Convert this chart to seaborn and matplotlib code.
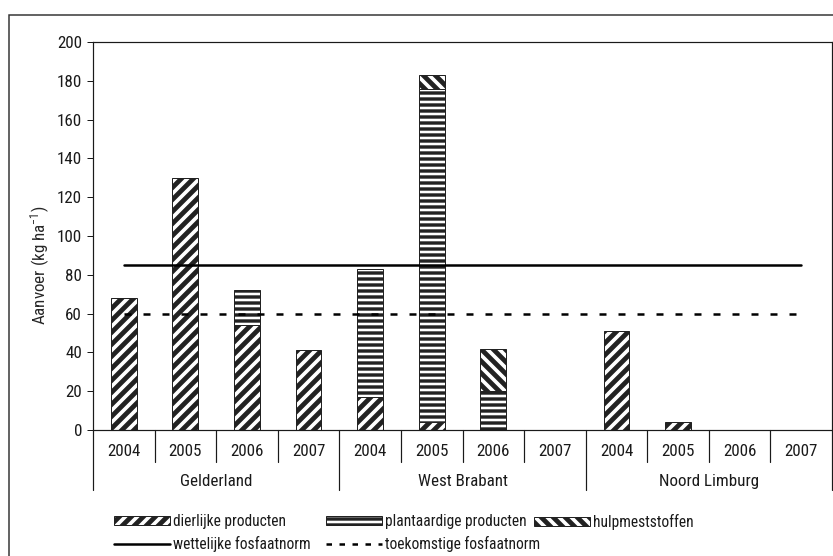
import numpy as np
import pandas as pd
import matplotlib
matplotlib.use("Agg")
import matplotlib.pyplot as plt
import matplotlib.patches as mpatches
from matplotlib.lines import Line2D
import seaborn as sns

# Phosphate input per region and year (kg/ha), split by source
regions = ["Gelderland", "West Brabant", "Noord Limburg"]
years = ["2004", "2005", "2006", "2007"]
dierlijk = [68, 130, 54, 41, 17, 4, 0, 0, 51, 4, 0, 0]
plantaardig = [0, 0, 18, 0, 66, 172, 20, 0, 0, 0, 0, 0]
hulp = [0, 0, 0, 0, 0, 7, 22, 0, 0, 0, 0, 0]
wettelijke_norm = 85
toekomstige_norm = 60
yticks = list(range(0, 201, 20))

sns.set_style("white")
FONT = ["Roboto Condensed", "DejaVu Sans"]
plt.rcParams["font.family"] = FONT
plt.rcParams["font.size"] = 17
plt.rcParams["mathtext.fontset"] = "custom"
plt.rcParams["mathtext.rm"] = "Roboto Condensed"
plt.rcParams["mathtext.it"] = "Roboto Condensed"
plt.rcParams["hatch.color"] = "black"
plt.rcParams["text.color"] = "#1a1a1a"
plt.rcParams["ytick.color"] = "#1a1a1a"

labels = [f"{r} {y}" for r in regions for y in years]
df = pd.DataFrame({
    "label": labels,
    "jaar": years * len(regions),
    "dierlijk": dierlijk,
    "plantaardig": plantaardig,
    "hulp": hulp,
})
df["bodem_plant"] = df["dierlijk"]
df["bodem_hulp"] = df["dierlijk"] + df["plantaardig"]

DPI = 72
W, H = 833, 556
fig = plt.figure(figsize=(W / DPI, H / DPI), dpi=DPI)
ax = fig.add_axes([93 / W, 1 - 430 / H, 739 / W, 388 / H])

EDGE = "#222222"
HATCH_DIER, HATCH_PLANT, HATCH_HULP = "//", "--", "\\\\"
LW_DIER, LW_PLANT, LW_HULP = 4.8, 3.4, 4.8
series = [
    ("dierlijk", HATCH_DIER, LW_DIER, None),
    ("plantaardig", HATCH_PLANT, LW_PLANT, "bodem_plant"),
    ("hulp", HATCH_HULP, LW_HULP, "bodem_hulp"),
]
for col, hatch, hlw, bottom in series:
    kw = {}
    if bottom is not None:
        kw["bottom"] = df[bottom].to_numpy()
    n_before = len(ax.patches)
    with plt.rc_context({"hatch.linewidth": hlw}):
        sns.barplot(data=df, x="label", y=col, order=labels, width=0.42,
                    color="white", saturation=1, edgecolor=EDGE, linewidth=1,
                    hatch=hatch, errorbar=None, ax=ax, **kw)
    for p in ax.patches[n_before:]:
        if hasattr(p, "set_hatch_linewidth"):
            p.set_hatch_linewidth(hlw)
        if p.get_height() == 0:
            p.set_visible(False)

# Norm lines through the category centres
x_pos = np.arange(len(labels))
sns.lineplot(x=x_pos, y=[wettelijke_norm] * len(labels), color="black",
             lw=2.5, ax=ax)
sns.lineplot(x=x_pos, y=[toekomstige_norm] * len(labels), color="black",
             lw=2.5, ax=ax)
ax.lines[-1].set_linestyle((0, (2.8, 4.8)))

ax.set_xlim(-0.5, len(labels) - 0.5)
ax.set_ylim(0, 200)
ax.set_yticks(yticks)
ax.set_xticks([])
ax.set_xlabel("")
ax.tick_params(axis="y", direction="out", length=6, width=1, pad=5,
               labelsize=17, left=True)
for s in ax.spines.values():
    s.set_color("#1a1a1a")
    s.set_linewidth(1.2)

ax.set_ylabel("Aanvoer (kg ha$^{-1}$)", fontsize=17, va="center")
ax.yaxis.set_label_coords(-0.0717, 0.425)

# Two-level category axis: years, then regions
trans = ax.get_xaxis_transform()
for i, jaar in enumerate(df["jaar"]):
    ax.text(i, -0.0567, jaar, transform=trans, ha="center", va="center",
            fontsize=17)
n = len(years)
for g, r in enumerate(regions):
    ax.text(g * n + (n - 1) / 2, -0.134, r, transform=trans, ha="center",
            va="center", fontsize=17)
for b in range(1, len(labels)):
    if b % n:
        ax.plot([b - 0.5, b - 0.5], [0, -0.0825], transform=trans,
                clip_on=False, color="#1a1a1a", lw=1.2)
for b in range(0, len(labels) + 1, n):
    ax.plot([b - 0.5, b - 0.5], [0, -0.155], transform=trans,
            clip_on=False, color="#1a1a1a", lw=1.2)

# Outer chart frame
fig.add_artist(mpatches.Rectangle((9 / W, -0.5), 2, 0.5 + 1 - 15 / H,
                                  transform=fig.transFigure, fill=False,
                                  edgecolor="#333333", lw=1.5))

# Legend laid out as a grid of equal-width columns
def bar_handle(hatch, hlw):
    with plt.rc_context({"hatch.linewidth": hlw}):
        return mpatches.Patch(facecolor="white", edgecolor=EDGE, lw=1,
                              hatch=hatch)

h_dier = bar_handle(HATCH_DIER, LW_DIER)
h_plant = bar_handle(HATCH_PLANT, LW_PLANT)
h_hulp = bar_handle(HATCH_HULP, LW_HULP)
h_wet = Line2D([], [], color="black", lw=2.5)
h_toek = Line2D([], [], color="black", lw=2.5, linestyle=(0, (2.2, 3.0)))

LEG_FS = 15.5
columns = [
    (114, [h_dier, h_wet], ["dierlijke producten", "wettelijke fosfaatnorm"]),
    (326, [h_plant, h_toek], ["plantaardige producten", "toekomstige fosfaatnorm"]),
    (534, [h_hulp], ["hulpmeststoffen"]),
]
hlws = {id(h_dier): LW_DIER, id(h_plant): LW_PLANT, id(h_hulp): LW_HULP}
for x0, hs, ls in columns:
    leg = fig.legend(hs, ls, loc="upper left",
                     bbox_to_anchor=(x0 / W, 1 - 514 / H),
                     frameon=False, fontsize=LEG_FS, handlelength=56 / LEG_FS,
                     handleheight=0.55, handletextpad=0.2, labelspacing=0.45,
                     borderpad=0, borderaxespad=0)
    for orig, p in zip([h for h in hs if isinstance(h, mpatches.Patch)],
                       leg.get_patches()):
        if hasattr(p, "set_hatch_linewidth"):
            p.set_hatch_linewidth(hlws[id(orig)])

fig.savefig("out.png", dpi=DPI)
